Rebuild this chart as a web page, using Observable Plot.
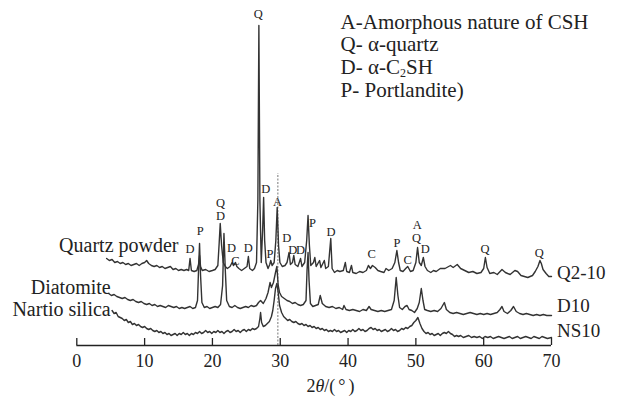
<!DOCTYPE html>
<html>
<head>
<meta charset="utf-8">
<script src="https://cdn.jsdelivr.net/npm/d3@7"></script>
<script src="https://cdn.jsdelivr.net/npm/@observablehq/plot@0.6"></script>
<style>
  html, body { margin: 0; padding: 0; background: #fff; }
  #chart { width: 617px; height: 399px; }
</style>
</head>
<body>
<div id="chart"></div>
<script>
// ---- Data (2θ in degrees, intensity in arbitrary units, stacked traces) ----
const q210Theta = [4.4,4.8,5.2,5.6,6.0,6.4,6.8,7.2,7.6,8.0,8.4,8.8,9.2,9.6,10.0,10.3,10.6,11.0,11.4,11.8,12.2,12.6,13.0,13.4,13.8,14.2,14.6,15.0,15.4,15.8,16.2,16.5,16.7,16.9,17.3,17.7,17.95,18.1,18.25,18.5,19.0,19.5,20.0,20.4,20.8,21.0,21.15,21.35,21.6,21.9,22.2,22.6,22.9,23.1,23.4,23.6,23.9,24.3,24.7,25.1,25.3,25.5,25.9,26.2,26.5,26.7,26.85,27.0,27.2,27.4,27.55,27.7,27.9,28.2,28.45,28.6,28.8,29.1,29.35,29.55,29.75,29.95,30.3,30.7,31.0,31.3,31.5,31.8,32.0,32.2,32.6,33.0,33.2,33.6,33.9,34.1,34.3,34.5,34.9,35.1,35.3,35.8,36.0,36.5,36.7,37.1,37.45,37.65,38.0,38.4,38.8,39.3,39.6,39.8,40.2,40.5,40.7,41.2,41.7,42.2,42.7,43.0,43.3,43.6,44.0,44.4,44.8,45.3,45.6,46.0,46.5,46.9,47.2,47.45,47.7,48.1,48.5,48.8,49.2,49.6,50.0,50.25,50.5,50.8,51.1,51.35,51.7,52.2,52.6,53.0,53.6,54.3,55.1,55.5,56.1,56.6,57.2,57.8,58.4,59.0,59.6,60.0,60.25,60.5,60.9,61.5,62.0,62.7,63.2,63.9,64.6,65.0,65.5,66.0,66.5,67.2,67.6,68.0,68.3,68.5,68.75,69.2,69.6,70];
const q210I = [87,85,86,83,84,82,83,81,82,80,81,82,80,82,83,85,82,80,79,80,78,79,77,78,79,76,77,75,76,75,76,75,87,75,74,75,81,90,79,75,76,74,75,76,80,103,122,100,83,79,77,79,83,80,83,79,77,75,77,79,89,77,75,77,83,145,320,145,83,115,148,105,83,77,81,85,80,83,105,138,100,83,79,80,83,93,81,83,90,81,79,87,79,83,105,130,100,80,83,88,79,85,78,85,77,79,107,77,73,75,74,75,83,74,73,80,73,72,74,73,75,80,77,80,78,75,74,73,77,75,77,83,95,83,75,74,77,79,74,75,83,98,83,80,88,79,75,73,75,74,77,77,80,78,81,77,75,73,74,72,73,77,88,78,72,73,71,76,73,71,75,74,70,69,68,70,74,79,85,82,76,72,69,69];

const d10Theta = [4.7,5.1,5.5,5.9,6.3,6.7,7.1,7.5,7.9,8.3,8.7,9.1,9.5,9.9,10.3,10.7,11.1,11.5,11.9,12.3,12.7,13.1,13.5,13.9,14.3,14.7,15.1,15.5,15.9,16.3,16.7,17.1,17.5,17.8,17.95,18.1,18.25,18.45,18.8,19.2,19.6,20.0,20.4,20.8,21.2,21.5,21.7,21.9,22.1,22.5,22.9,23.3,23.7,24.1,24.5,24.9,25.3,25.7,26.1,26.5,26.8,27.1,27.5,27.9,28.2,28.5,28.7,29.0,29.3,29.5,29.7,29.9,30.2,30.6,31.0,31.4,31.8,32.2,32.6,33.0,33.4,33.8,33.95,34.1,34.25,34.45,34.8,35.2,35.6,35.9,36.2,36.7,37.2,37.7,38.2,38.7,39.2,39.4,39.7,40.2,40.7,41.2,41.7,42.2,42.7,43.1,43.4,43.9,44.4,44.9,45.4,45.9,46.4,46.8,47.1,47.35,47.6,48.0,48.4,48.7,49.0,49.4,49.8,50.2,50.5,50.8,51.05,51.3,51.7,52.2,52.7,53.2,53.7,54.2,54.5,55.0,55.5,56.0,56.5,57.0,57.5,58.0,58.5,59.0,59.5,60.0,60.5,61.0,61.5,62.0,62.4,62.7,63.0,63.5,64.0,64.4,64.8,65.3,65.8,66.3,66.8,67.3,67.8,68.3,68.8,69.3,70];
const d10I = [52,50,51,49,48,47,48,46,45,46,44,43,44,42,41,42,40,41,39,40,39,38,40,39,38,39,37,38,37,38,39,37,38,45,75,102,70,43,38,39,37,38,39,38,41,60,112,75,45,39,38,40,38,37,38,39,38,40,39,40,43,45,42,47,53,63,58,63,73,79,60,53,49,47,45,44,42,43,41,40,41,45,75,93,65,42,39,40,41,50,42,39,38,39,37,38,36,40,36,35,36,35,34,36,35,39,36,35,34,35,34,35,36,45,68,50,38,36,39,40,36,35,33,37,43,57,45,36,35,34,35,34,37,43,36,33,32,33,32,31,32,33,32,31,32,31,32,31,32,33,36,39,34,32,35,39,34,32,31,32,31,30,31,30,31,30,30];

const ns10Theta = [5.2,5.5,5.8,6.1,6.4,6.7,7.0,7.3,7.6,7.9,8.2,8.5,8.8,9.1,9.4,9.7,10.0,10.3,10.6,10.9,11.2,11.5,11.8,12.1,12.4,12.7,13.0,13.3,13.6,13.9,14.2,14.5,14.8,15.1,15.4,15.7,16.0,16.3,16.6,16.9,17.2,17.5,17.8,18.1,18.4,18.7,19.0,19.3,19.6,19.9,20.2,20.5,20.8,21.1,21.4,21.7,22.0,22.3,22.6,22.9,23.2,23.5,23.8,24.1,24.4,24.7,25.0,25.3,25.6,25.9,26.2,26.5,26.8,27.0,27.1,27.25,27.5,27.8,28.1,28.4,28.7,28.9,29.1,29.3,29.5,29.7,29.9,30.2,30.5,30.8,31.1,31.4,31.7,32.0,32.3,32.6,32.9,33.2,33.5,33.8,34.1,34.4,34.7,35.0,35.3,35.6,35.9,36.2,36.5,36.8,37.1,37.4,37.7,38.0,38.3,38.6,38.9,39.2,39.5,39.8,40.1,40.4,40.7,41.0,41.3,41.6,41.9,42.2,42.5,42.8,43.1,43.4,43.7,44.0,44.3,44.6,44.9,45.2,45.5,45.8,46.1,46.4,46.7,47.0,47.3,47.6,47.9,48.2,48.5,48.8,49.1,49.4,49.7,50.0,50.3,50.6,50.9,51.2,51.5,51.8,52.1,52.4,52.7,53.0,53.3,53.6,53.9,54.2,54.5,54.8,55.1,55.4,55.7,56.0,56.3,56.6,57.0,57.4,57.8,58.2,58.6,59.0,59.4,59.8,60.2,60.6,61.0,61.4,61.8,62.2,62.6,63.0,63.4,63.8,64.2,64.6,65.0,65.4,65.8,66.2,66.6,67.0,67.4,67.8,68.2,68.6,69.0,69.4,70];
const ns10I = [35,32,33,29,28,27,25,26,23,24,21,22,20,21,19,18,19,17,16,17,15,14,15,13,14,12,13,11,12,10,11,12,10,12,11,13,11,12,10,12,11,13,12,14,12,13,15,13,14,12,14,13,15,13,14,12,14,15,13,14,16,14,15,13,15,16,14,16,15,17,16,17,19,27,33,23,19,20,22,24,29,35,45,57,62,53,40,33,29,27,25,26,24,23,24,22,21,22,20,21,19,20,18,19,17,18,16,17,15,16,14,15,14,16,14,15,13,14,15,13,15,14,16,14,15,17,15,16,14,15,17,18,16,17,15,16,14,15,16,14,15,17,15,16,14,15,17,16,18,17,19,20,23,25,28,22,17,14,12,13,11,12,10,11,12,10,12,13,12,14,12,11,9,10,9,10,8,9,10,8,9,8,9,7,9,8,9,7,8,9,8,7,8,9,7,8,9,7,8,9,8,7,9,8,7,9,8,7,8];

// Peak phase labels
const peakText  = ["Q","D","Q","D","P","D","D","C","D","P","A","D","D","D","P","D","C","P","C","A","Q","D","Q","Q"];
const peakTheta = [26.75,27.85,21.2,21.2,18.2,16.7,22.8,23.4,25.3,28.5,29.6,30.95,31.85,33.0,34.75,37.5,43.5,47.2,48.8,50.2,50.1,51.4,60.2,68.2];
const peakI     = [332,157,143,130,115,97,98,85,98,92,144,108,96,96,123,114,92,103,86,121,108,97,97,93];

// Sample names (left) and codes (right)
const sampleNames = ["Quartz powder","Diatomite","Nartio silica"];
const sampleCodes = ["Q2-10","D10","NS10"];
const nameTheta = [15.0, 5.0, 5.0];
const nameI = [100, 58, 36];
const codeTheta = 70.8;
const codeI = [73, 40, 14.5];

// Legend of phases
const legendLines = ["A-Amorphous nature of CSH","Q- α-quartz","D- α-C_2SH","P- Portlandite)"];
const legendI = [323, 301, 278.5, 255.5];
const legendTheta = 38.9;

// Amorphous CSH marker position and axis ticks
const amorphousTheta = 29.65;
const amorphousTop = 172;
const xTicks = [0,10,20,30,40,50,60,70];
const xLabel = "2θ/(°)";
const xLabelTheta = 37.4;
const xLabelI = -41;

// ---- Build tables ----
const toRows = (th, I, s) => th.map((t, i) => ({theta: t, I: I[i], sample: s}));
const traces = [
  ...toRows(q210Theta, q210I, "Q2-10"),
  ...toRows(d10Theta, d10I, "D10"),
  ...toRows(ns10Theta, ns10I, "NS10")
];
const peaks = peakText.map((t, i) => ({t, theta: peakTheta[i], I: peakI[i]}));
const names = sampleNames.map((t, i) => ({t, theta: nameTheta[i], I: nameI[i]}));
const codes = sampleCodes.map((t, i) => ({t, theta: codeTheta, I: codeI[i]}));
const legend = legendLines.map((t, i) => ({t, theta: legendTheta, I: legendI[i]}));

const font = '"Liberation Serif", "Times New Roman", serif';

const chart = Plot.plot({
  width: 617,
  height: 399,
  marginLeft: 76.3,
  marginRight: 66,
  marginTop: 0,
  marginBottom: 54,
  style: {fontFamily: font, background: "#fff", color: "#222"},
  x: {domain: [0, 70], ticks: xTicks},
  y: {domain: [0, 345], axis: null},
  marks: [
    Plot.ruleX([amorphousTheta], {y1: 0, y2: amorphousTop, stroke: "#777", strokeWidth: 1, strokeDasharray: "2,1.5"}),
    Plot.lineY(traces, {x: "theta", y: "I", z: "sample", stroke: "#333", strokeWidth: 1.4, strokeLinejoin: "round"}),
    Plot.ruleY([0], {x1: 0, x2: 70, stroke: "#222", strokeWidth: 1.3}),
    Plot.ruleX(xTicks, {y1: 0, y2: 7, stroke: "#222", strokeWidth: 1.3}),
    Plot.axisX({ticks: xTicks, tickSize: 0, tickPadding: 9, fontSize: 18, label: null, tickFormat: d => String(d)}),
    Plot.text([{t: xLabel, theta: xLabelTheta, I: xLabelI}], {x: "theta", y: "I", text: "t", fontSize: 18, fill: "#222"}),
    Plot.text(peaks, {x: "theta", y: "I", text: "t", fontSize: 12.5, fill: "#222"}),
    Plot.text(names, {x: "theta", y: "I", text: "t", fontSize: 20, textAnchor: "end", fill: "#222"}),
    Plot.text(codes, {x: "theta", y: "I", text: "t", fontSize: 19, textAnchor: "start", fill: "#222"}),
    Plot.text(legend, {x: "theta", y: "I", text: "t", fontSize: 21, textAnchor: "start", fill: "#222"})
  ]
});
document.getElementById("chart").appendChild(chart);

// typographic touches: italic θ, spaced parentheses and subscript 2
chart.querySelectorAll("text").forEach(el => {
  if (el.textContent === xLabel) {
    el.innerHTML = '2<tspan font-style="italic">θ</tspan>/(<tspan dx="3">°</tspan><tspan dx="3">)</tspan>';
  } else if (el.textContent === "D- α-C_2SH") {
    el.innerHTML = 'D- α-C<tspan dy="3" font-size="12">2</tspan><tspan dy="-3">SH</tspan>';
  }
});
</script>
</body>
</html>
